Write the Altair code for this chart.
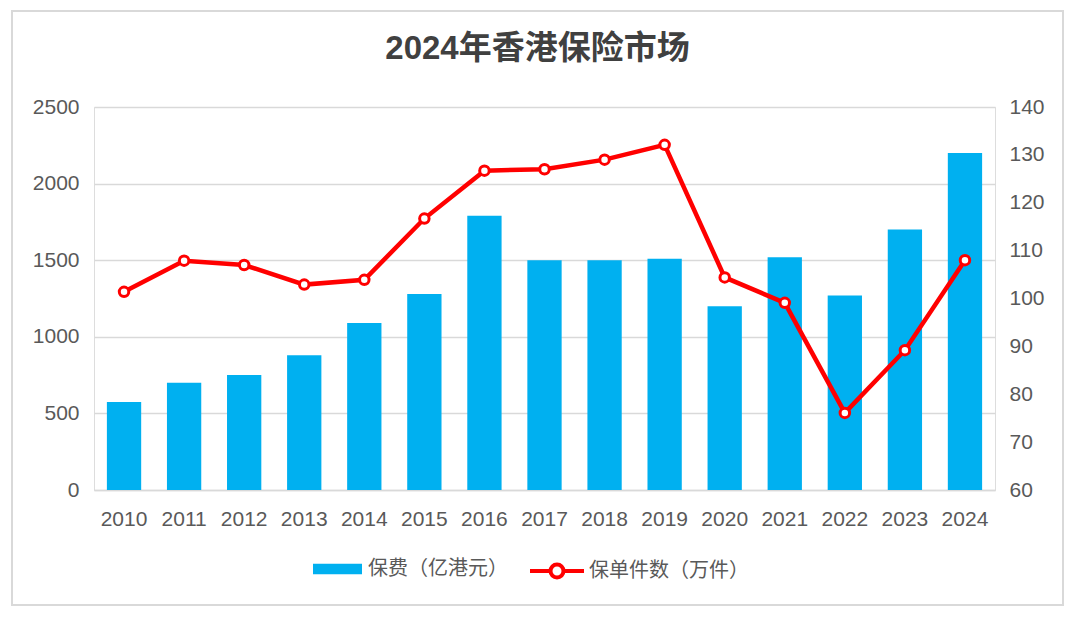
import altair as alt
import pandas as pd

years = ["2010", "2011", "2012", "2013", "2014", "2015", "2016", "2017",
         "2018", "2019", "2020", "2021", "2022", "2023", "2024"]
premium = [575, 700, 750, 880, 1090, 1280, 1790, 1500, 1500, 1510, 1200, 1520, 1270, 1700, 2200]
policies = [101.4, 107.9, 107.0, 102.9, 103.9, 116.7, 126.7, 127.0, 129.0, 132.1, 104.4, 99.1, 76.1, 89.2, 108.0]
bar_name = "保费（亿港元）"
line_name = "保单件数（万件）"
left_ticks = [0, 500, 1000, 1500, 2000, 2500]
right_ticks = [60, 70, 80, 90, 100, 110, 120, 130, 140]

FONT = "Liberation Sans, Arial, Noto Sans CJK SC"
GRAY = "#595959"

df = pd.DataFrame({
    "year": years,
    "premium": premium,
    "policies": policies,
    "bar_series": [bar_name] * len(years),
    "line_series": [line_name] * len(years),
})

x_enc = alt.X("year:O", sort=years,
              scale=alt.Scale(paddingInner=0.43, paddingOuter=0.215),
              axis=alt.Axis(title=None, labelAngle=0, ticks=False, tickSize=0,
                            labelFontSize=21, labelColor=GRAY, labelFont=FONT,
                            labelPadding=18, domain=True, domainColor="#D9D9D9",
                            domainWidth=1.5, grid=False))

border = alt.Chart(pd.DataFrame({"k": [0]})).mark_rect(
    fillOpacity=0, stroke="#D9D9D9", strokeWidth=2
).encode(
    x=alt.value(-82), x2=alt.value(969), y=alt.value(-96), y2=alt.value(498)
)

bars = alt.Chart(df).mark_bar(size=34.3).encode(
    x=x_enc,
    y=alt.Y("premium:Q",
            scale=alt.Scale(domain=[0, 2500], nice=False),
            axis=alt.Axis(title=None, values=left_ticks, orient="left", format="d",
                          grid=True, gridColor="#D9D9D9", gridWidth=1.5,
                          domain=False, ticks=False, labelFontSize=21,
                          labelColor=GRAY, labelFont=FONT, labelPadding=15)),
    fill=alt.Fill("bar_series:N",
                  scale=alt.Scale(domain=[bar_name], range=["#00B0F0"]),
                  legend=alt.Legend(title=None, orient="none", legendX=219, legendY=437.5,
                                    symbolType="M-1,-0.21H1V0.21H-1Z", symbolSize=2401,
                                    symbolStrokeWidth=0, labelOffset=6, padding=0,
                                    labelFontSize=20, labelColor=GRAY, labelFont=FONT,
                                    labelLimit=400)),
)

line = alt.Chart(df).mark_line(strokeWidth=4.5).encode(
    stroke=alt.Stroke("line_series:N",
                      scale=alt.Scale(domain=[line_name], range=["#FF0000"]),
                      legend=alt.Legend(title=None, orient="none", legendX=434, legendY=435,
                                        symbolType="M-1,0H-0.24M0.24,0H1M0.24,0A0.24,0.24 0 1,1 -0.24,0A0.24,0.24 0 1,1 0.24,0",
                                        symbolSize=2916, symbolStrokeWidth=4,
                                        labelOffset=3, padding=0,
                                        labelFontSize=20, labelColor=GRAY, labelFont=FONT,
                                        labelLimit=400)),
)

points = alt.Chart(df).mark_point(filled=True, fill="white", stroke="#FF0000",
                                  strokeWidth=3, size=90, opacity=1)

line_layer = alt.layer(line, points).encode(
    x=x_enc,
    y=alt.Y("policies:Q",
            scale=alt.Scale(domain=[60, 140], nice=False, zero=False),
            axis=alt.Axis(title=None, values=right_ticks, orient="right",
                          grid=False, domain=False, ticks=False, labelFontSize=21,
                          labelColor=GRAY, labelFont=FONT, labelPadding=14)),
)

chart = alt.layer(border, bars, line_layer).resolve_scale(
    y="independent"
).properties(
    width=901,
    height=383,
    autosize=alt.AutoSizeParams(type="none"),
    padding={"left": 86, "top": 99, "right": 77, "bottom": 127},
    title=alt.TitleParams(
        "2024年香港保险市场", fontSize=33, fontWeight="bold", color="#404040",
        font="Liberation Sans, Arial, Noto Sans CJK SC", anchor="middle",
        frame="group", baseline="alphabetic", offset=0, dy=82, dx=-7),
).configure_view(stroke=None).configure(background="white")

chart.save("out.html", embed_options={"renderer": "svg", "actions": False})
